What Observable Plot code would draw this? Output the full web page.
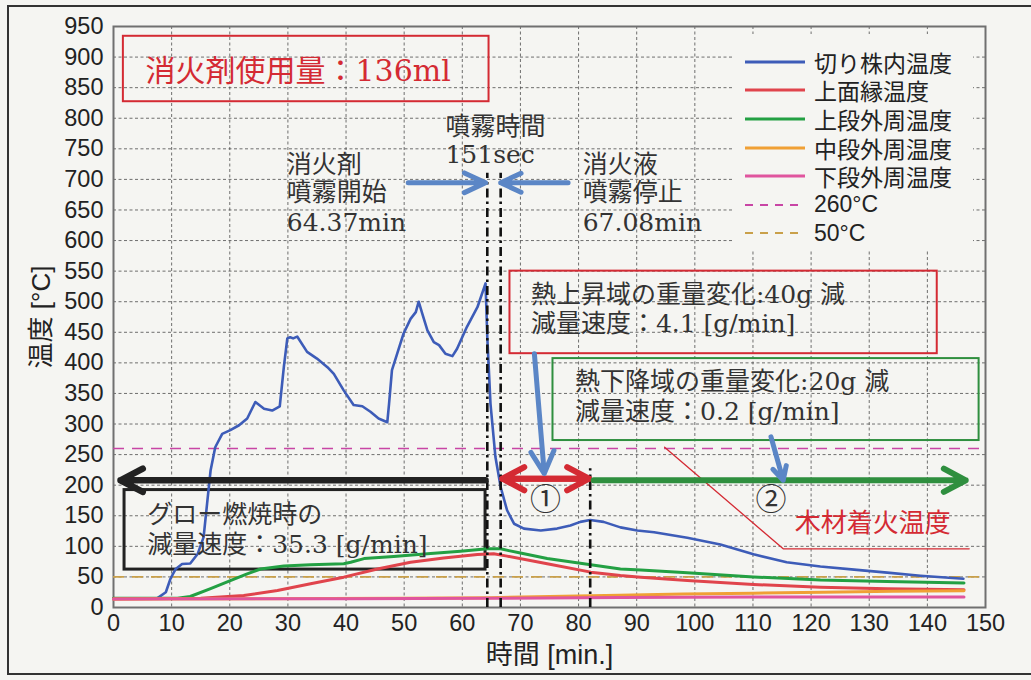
<!DOCTYPE html>
<html><head><meta charset="utf-8">
<script src="https://cdn.jsdelivr.net/npm/d3@7"></script>
<script src="https://cdn.jsdelivr.net/npm/@observablehq/plot@0.6"></script>
<style>
body{margin:0;background:#f5f5f2;}
#wrap{position:relative;width:1031px;height:680px;overflow:hidden;background:#f5f5f2;}
#border{position:absolute;left:7px;top:5px;width:1060px;height:670px;border:2px solid #333;box-sizing:border-box;}
#legend{position:absolute;left:733px;top:34px;width:240px;height:216px;background:#f5f5f2;}
.lrow{position:absolute;left:12px;height:28px;display:flex;align-items:center;font-family:"Liberation Sans","Noto Sans CJK JP",sans-serif;font-size:23px;color:#222;white-space:nowrap;}
.lrow svg{margin-right:9px;}
</style></head>
<body><div id="wrap"><div id="border"></div></div>
<script>
// ---- data ----
const xTicks = [0,10,20,30,40,50,60,70,80,90,100,110,120,130,140,150];
const yTicks = [0,50,100,150,200,250,300,350,400,450,500,550,600,650,700,750,800,850,900,950];

// 切り株内温度 (blue)
const stumpTime = [0,7.5,9.0,9.8,10.7,11.8,13.2,14.5,15.5,16.1,16.7,17.5,18.7,20.1,21.6,23.0,24.4,25.9,27.3,28.6,29.3,29.9,30.4,30.9,31.6,33.3,35.0,36.8,37.9,39.6,41.3,42.8,44.2,45.6,47.1,47.4,47.9,48.8,49.9,51.1,52.0,52.5,53.1,54.0,55.1,56.0,57.1,58.3,59.1,60.8,62.6,64.0,64.3,64.85,65.7,66.6,67.7,68.9,70.6,73.5,76.3,78.6,80.3,82.0,84.3,87.2,90.1,93.0,98.7,104.4,110.1,115.8,121.6,127.4,133.1,138.8,146.2];
const stumpTemp = [15,15,25,47,63,71,72,88,115,170,224,262,284,290,298,309,336,325,322,329,393,440,442,440,443,418,407,393,382,355,331,329,320,309,303,333,388,415,448,472,483,500,481,453,434,429,415,411,423,459,491,530,442,333,246,197,159,137,129,126,129,134,140,143,140,131,126,123,114,103,87,74,67,62,57,52,47];

// 上面縁温度 (red)
const rimTime = [0,15,22.4,28.2,33.9,39.6,45.4,51.1,56.8,62.6,65.4,67.7,74.6,82.1,87.2,90.7,98.7,110.1,121.6,133.1,146.3];
const rimTemp = [14,15,19.6,27.8,38.8,49.6,63,74,81,86.7,88,84,71.5,57.8,52.4,49.6,44,37.6,33,30.6,29];

// 上段外周温度 (green)
const upperTime = [0,11.0,13.2,16.7,20.1,23.0,25.3,29.3,33.9,39.6,40.8,43.1,48.2,54.0,59.7,64.3,66.6,68.0,70.0,74.6,82.1,87.2,90.7,98.7,110.1,121.6,133.1,146.3];
const upperTemp = [15,15,18,31,44,55,63,68,70,71.5,74,80,83.5,88,92,96,96,93,89,80,70,63,61.5,57,50,45,42.5,40];

// 中段外周温度 (orange)
const middleTime = [0,50,65,75,87,98,110,122,134,146.3];
const middleTemp = [14,15,16,18,20,22,23.5,25,26.5,27.5];

// 下段外周温度 (pink)
const lowerTime = [0,40,65,87,110,146.3];
const lowerTemp = [14,14.5,15,16.5,17,17];

const thresholds = [260, 50];
const eventTimes = [64.3, 66.6, 82.0];          // 噴霧開始, 噴霧停止, ①/② boundary
const eventTops = [710, 710, 227];

const seriesNames = ["切り株内温度","上面縁温度","上段外周温度","中段外周温度","下段外周温度"];
const seriesColors = ["#3d5cb8","#e0444c","#23a043","#f0a035","#e0559e"];
const thresholdNames = ["260°C","50°C"];
const thresholdColors = ["#c845a5","#c9a04a"];

// ---- annotations (data coordinates: minutes, °C) ----
const boxes = [
  {x1:1.7, x2:64.6, y1:827, y2:934, stroke:"#d42a33", w:2},
  {x1:68.2, x2:141.7, y1:415, y2:550, stroke:"#d42a33", w:2},
  {x1:75.6, x2:148.9, y1:273, y2:407, stroke:"#2f8f3f", w:2},
  {x1:1.9, x2:64.0, y1:62, y2:192, stroke:"#222", w:3}
];
const texts = [
  {t:5.5, v:876, s:"消火剤使用量：136ml", c:"#d42a33", f:30},
  {t:57.1, v:786, s:"噴霧時間", c:"#333", f:25},
  {t:57.1, v:740, s:"151sec", c:"#333", f:25},
  {t:29.8, v:723, s:"消火剤", c:"#333", f:25},
  {t:29.8, v:678, s:"噴霧開始", c:"#333", f:25},
  {t:29.8, v:629, s:"64.37min", c:"#333", f:25},
  {t:80.7, v:723, s:"消火液", c:"#333", f:25},
  {t:80.7, v:678, s:"噴霧停止", c:"#333", f:25},
  {t:80.7, v:629, s:"67.08min", c:"#333", f:25},
  {t:71.8, v:511, s:"熱上昇域の重量変化:40g 減", c:"#333", f:25},
  {t:71.8, v:464, s:"減量速度：4.1 [g/min]", c:"#333", f:25},
  {t:79.4, v:369, s:"熱下降域の重量変化:20g 減", c:"#333", f:25},
  {t:79.4, v:320, s:"減量速度：0.2 [g/min]", c:"#333", f:25},
  {t:5.8, v:151, s:"グロー燃焼時の", c:"#333", f:25},
  {t:5.8, v:102, s:"減量速度：35.3 [g/min]", c:"#333", f:25}
];
const marksText = [
  {t:74.3, v:175, s:"①"},
  {t:113.1, v:175, s:"②"}
];
const woodLabel = {t:130.6, v:137, s:"木材着火温度"};
const woodLeader = [{t:94.8, v:262},{t:115.2, v:96},{t:147.2, v:96}];
const arrows = [
  {x1:64.0, y1:208, x2:1.2, y2:208, c:"#222", w:6.5, h:5.8, a:55},
  {x1:81.8, y1:210.6, x2:66.9, y2:210.6, c:"#d42a33", w:6, h:6.2, a:56},
  {x1:66.9, y1:210.6, x2:81.8, y2:210.6, c:"#d42a33", w:6, h:6.2, a:56},
  {x1:82.6, y1:208, x2:146.6, y2:208, c:"#2f8f3f", w:6, h:6.2, a:56},
  {x1:50.7, y1:694.5, x2:64.0, y2:694.5, c:"#5b86c6", w:5, h:7, a:50},
  {x1:78.2, y1:694.5, x2:66.6, y2:694.5, c:"#5b86c6", w:5, h:7, a:50},
  {x1:72.4, y1:415, x2:74.1, y2:219, c:"#5b86c6", w:5, h:7.5, a:55},
  {x1:113.1, y1:279, x2:115.2, y2:208, c:"#5b86c6", w:5, h:7.5, a:55}
];

const toRows = (ts, vs) => ts.map((t, i) => ({t, v: vs[i]}));
const series = [
  toRows(stumpTime, stumpTemp),
  toRows(rimTime, rimTemp),
  toRows(upperTime, upperTemp),
  toRows(middleTime, middleTemp),
  toRows(lowerTime, lowerTemp)
];
const drawOrder = [0, 2, 1, 3, 4];
const annFont = "DejaVu Serif, Noto Sans CJK JP, serif";
const grid = {stroke:"#444", strokeOpacity:0.85, strokeWidth:0.9, strokeDasharray:"3,2.5"};

const chart = Plot.plot({
  width: 1031, height: 680,
  marginLeft: 113, marginRight: 46, marginTop: 26, marginBottom: 73,
  style: {background: "transparent", fontFamily: "Liberation Sans, Arial, sans-serif", color: "#222"},
  x: {domain: [0, 150]},
  y: {domain: [0, 950]},
  marks: [
    Plot.gridX(xTicks, grid),
    Plot.gridY(yTicks, grid),
    Plot.frame({stroke: "#707070", strokeWidth: 2}),
    Plot.axisX(xTicks, {tickSize: 0, tickPadding: 7, fontSize: 23.5, label: null}),
    Plot.axisY(yTicks, {tickSize: 0, tickPadding: 10, fontSize: 23.5, label: null}),
    Plot.axisX([], {label: "時間 [min.]", labelAnchor: "center", labelOffset: 56, labelArrow: "none", fontSize: 27, fontFamily: "Liberation Sans, Noto Sans CJK JP, sans-serif", tickSize: 0}),
    Plot.axisY([], {label: "温度 [°C]", labelAnchor: "center", labelOffset: 82, labelArrow: "none", fontSize: 26, fontFamily: "Liberation Sans, Noto Sans CJK JP, sans-serif", tickSize: 0}),
    ...boxes.map(b => Plot.rect([b], {x1: "x1", x2: "x2", y1: "y1", y2: "y2", fill: "none", stroke: b.stroke, strokeWidth: b.w})),
    ...thresholds.map((th, i) => Plot.ruleY([th], {stroke: thresholdColors[i], strokeWidth: 1.6, strokeDasharray: "11,8"})),
    ...drawOrder.map(i => Plot.line(series[i], {x: "t", y: "v", stroke: seriesColors[i], strokeWidth: i === 0 ? 2.6 : 3})),
    Plot.line(woodLeader, {x: "t", y: "v", stroke: "#d42a33", strokeWidth: 1.3}),
    ...eventTimes.map((t, i) => Plot.ruleX([t], {y1: 0, y2: eventTops[i], stroke: "#111", strokeWidth: 2.6, strokeDasharray: "9,4,2.5,4"})),
    ...arrows.map(a => Plot.arrow([a], {x1: "x1", y1: "y1", x2: "x2", y2: "y2", stroke: a.c, strokeWidth: a.w, headLength: a.h, headAngle: a.a})),
    ...texts.map(d => Plot.text([d], {x: "t", y: "v", text: "s", fill: d.c, fontSize: d.f, fontFamily: annFont, textAnchor: "start", lineAnchor: "middle"})),
    Plot.text(marksText, {x: "t", y: "v", text: "s", fill: "#333", fontSize: 31, fontFamily: "Noto Sans CJK JP, sans-serif", textAnchor: "middle", lineAnchor: "middle"}),
    Plot.text([woodLabel], {x: "t", y: "v", text: "s", fill: "#d42a33", fontSize: 26, fontFamily: "Noto Sans CJK JP, sans-serif", textAnchor: "middle", lineAnchor: "middle"})
  ]
});
chart.style.position = "absolute";
chart.style.left = "0px";
chart.style.top = "0px";
const wrap = document.getElementById("wrap");
wrap.appendChild(chart);

// legend (HTML overlay in the top-right of the plot area)
const legend = document.createElement("div");
legend.id = "legend";
const items = seriesNames.map((n, i) => ({n, c: seriesColors[i], dash: null}))
  .concat(thresholdNames.map((n, i) => ({n, c: thresholdColors[i], dash: "8,7"})));
items.forEach((it, i) => {
  const row = document.createElement("div");
  row.className = "lrow";
  row.style.top = (13.7 + i * 28.6) + "px";
  row.innerHTML = `<svg width="60" height="6"><line x1="0" x2="60" y1="3" y2="3" stroke="${it.c}" stroke-width="${it.dash ? 2 : 3}" ${it.dash ? `stroke-dasharray="${it.dash}"` : ""}/></svg><span>${it.n}</span>`;
  legend.appendChild(row);
});
wrap.appendChild(legend);
</script>
</body></html>
